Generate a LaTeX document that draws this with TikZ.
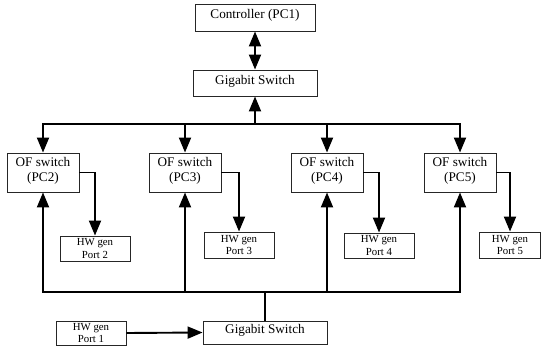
\documentclass[tikz,border=0pt]{standalone}
\usepackage{fontspec}
\setmainfont{Liberation Serif}
\usetikzlibrary{arrows.meta}
\begin{document}
\begin{tikzpicture}[x=1pt,y=-1pt,
  box/.style={draw=black!85, line width=0.9pt, inner sep=0pt, align=center, fill=white},
  bigbox/.style={box, text depth=7pt, font=\fontsize{13.2}{15}\selectfont},
  genbox/.style={box, minimum width=70pt, minimum height=25pt, font=\fontsize{10.8}{12.5}\selectfont},
  tip/.style={Triangle[length=15pt,width=12pt]},
  conn/.style={line width=1.9pt, -{Triangle[length=15pt,width=12pt]}},
  plain/.style={line width=1.9pt}]
\useasboundingbox (0,0) rectangle (541,350);
% top
\node[bigbox, minimum width=120pt, minimum height=27pt] (ctrl) at (255,17.5) {Controller (PC1)};
\node[bigbox, minimum width=124pt, minimum height=26pt] (gs1) at (255,83) {Gigabit Switch};
% OF switches
\node[bigbox, minimum width=72pt, minimum height=39pt] (of2) at (43,172.5) {OF switch\\(PC2)};
\node[bigbox, minimum width=72pt, minimum height=39pt] (of3) at (185,172.5) {OF switch\\(PC3)};
\node[bigbox, minimum width=72pt, minimum height=39pt] (of4) at (327,172.5) {OF switch\\(PC4)};
\node[bigbox, minimum width=72pt, minimum height=39pt] (of5) at (460,172.5) {OF switch\\(PC5)};
% HW gens
\node[genbox] (hw2) at (95,248.5) {HW gen\\Port 2};
\node[genbox, minimum height=26pt] (hw3) at (239,245) {HW gen\\Port 3};
\node[genbox] (hw4) at (379,245.5) {HW gen\\Port 4};
\node[genbox, minimum width=61pt, minimum height=26pt] (hw5) at (510,245) {HW gen\\Port 5};
\node[genbox, minimum height=24pt] (hw1) at (91,333) {HW gen\\Port 1};
\node[bigbox, minimum width=124pt, minimum height=23pt] (gs2) at (265,332.5) {Gigabit Switch};
% connectors
\draw[plain, {Triangle[length=15pt,width=12pt]}-{Triangle[length=15pt,width=12pt]}] (ctrl.south) -- (gs1.north);
\coordinate (bus) at (255,124);
\draw[conn] (bus) -- (gs1.south);
\draw[conn] (bus) -| (of2.north);
\draw[conn] (bus) -| (of3.north);
\draw[conn] (bus) -| (of4.north);
\draw[conn] (bus) -| (of5.north);
\draw[conn] (of2.east) -| (hw2.north);
\draw[conn] (of3.east) -| (hw3.north);
\draw[conn] (of4.east) -| (hw4.north);
\draw[conn] (of5.east) -| (hw5.north);
\coordinate (bbus) at (265,292);
\draw[plain] (gs2.north) -- (bbus);
\draw[conn] (bbus) -| (of2.south);
\draw[conn] (bbus) -| (of3.south);
\draw[conn] (bbus) -| (of4.south);
\draw[conn] (bbus) -| (of5.south);
\draw[conn] (hw1.east) -- (gs2.west);
\end{tikzpicture}
\end{document}
